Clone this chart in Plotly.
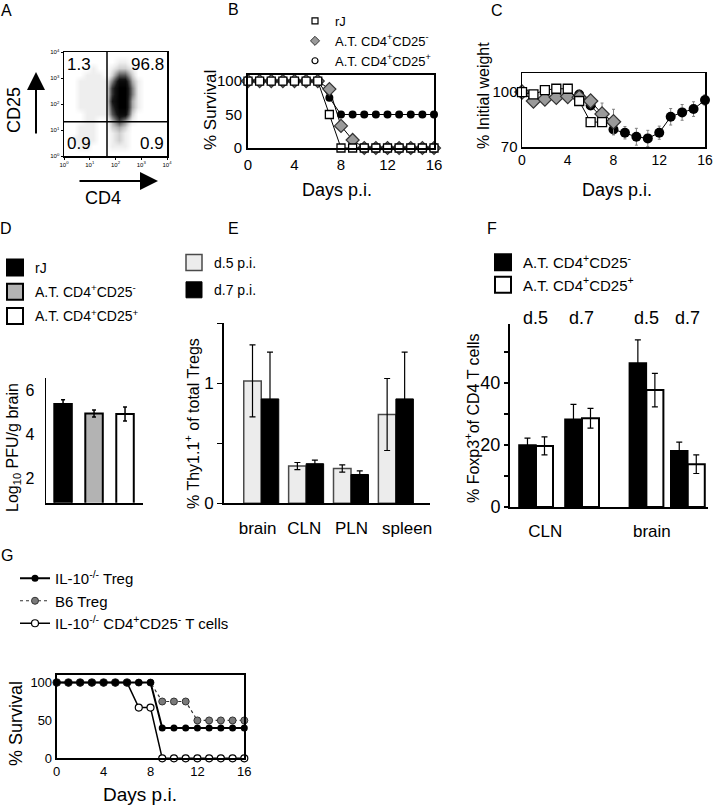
import plotly.graph_objects as go

W, H = 714, 808
FONT = "Liberation Sans, Arial, Helvetica, sans-serif"

# ---------------- data ----------------
# A: flow cytometry, log10 decades
a_decades = [0, 1, 2, 3, 4]
a_tick_text = ["10<sup>0</sup>", "10<sup>1</sup>", "10<sup>2</sup>", "10<sup>3</sup>", "10<sup>4</sup>"]
a_bin_centers = [0.125, 0.375, 0.625, 0.875, 1.125, 1.375, 1.625, 1.875,
                 2.125, 2.375, 2.625, 2.875, 3.125, 3.375, 3.625, 3.875]
# event density (0-9), rows from CD25 high (top) to low (bottom)
a_density_rows = [
    "0000000000000000",
    "0000000011000000",
    "0000100122100000",
    "0001110255200000",
    "0011111488310000",
    "0011111699410000",
    "0011111699410000",
    "0011111799310000",
    "0011111699310000",
    "0001111588200000",
    "0001100364100000",
    "0011100232000000",
    "0011100121000000",
    "0111100121000000",
    "0011000111000000",
    "0000000000000000",
]
a_gate_cd4 = 1.67
a_gate_cd25 = 1.32
a_quadrant_pct = ["1.3", "96.8", "0.9", "0.9"]  # UL, UR, LL, LR

# B: survival
b_days = [0, 1, 2, 3, 4, 5, 6, 7, 8, 9, 10, 11, 12, 13, 14, 15, 16]
b_rj = [100, 100, 100, 100, 100, 100, 100, 50, 0, 0, 0, 0, 0, 0, 0, 0, 0]
b_cd25neg = [100, 100, 100, 100, 100, 100, 100, 88, 33, 12, 0, 0, 0, 0, 0, 0, 0]
b_cd25pos = [100, 100, 100, 100, 100, 100, 100, 75, 50, 50, 50, 50, 50, 50, 50, 50, 50]

# C: % initial weight
c_days_rj = [0, 1, 2, 3, 4, 5, 6, 7]
c_rj = [100, 98.7, 101.1, 101.8, 101.8, 95.1, 83.6, 83.6]
c_days_neg = [0, 1, 2, 3, 4, 5, 6, 7, 8]
c_cd25neg = [100, 95.1, 96.2, 97.1, 97.6, 97.1, 95.1, 88.0, 83.8]
c_cd25neg_err = [0.5, 1.0, 1.0, 1.0, 1.0, 1.0, 1.5, 6.0, 6.8]
c_days_pos = [0, 1, 2, 3, 4, 5, 6, 7, 8, 9, 10, 11, 12, 13, 14, 15, 16]
c_cd25pos = [100, 95.5, 96.5, 97.0, 97.5, 98.7, 92.7, 86.2, 79.6, 77.8, 75.6, 74.7, 77.8, 86.5, 88.9, 90.7, 95.6]
c_cd25pos_err = [0.5, 0.8, 0.8, 0.8, 0.8, 1.0, 1.5, 2.5, 3.0, 3.4, 4.6, 4.4, 3.6, 4.5, 4.3, 4.0, 3.0]

# D: virus titre
d_groups = ["rJ", "CD25-", "CD25+"]
d_vals = [5.38, 4.95, 4.93]
d_err = [0.2, 0.16, 0.32]

# E: % Thy1.1+ of total Tregs
e_tissues = ["brain", "CLN", "PLN", "spleen"]
e_d5 = [1.02, 0.31, 0.29, 0.74]
e_d5_err = [0.30, 0.03, 0.03, 0.30]
e_d7 = [0.87, 0.33, 0.24, 0.87]
e_d7_err = [0.39, 0.03, 0.03, 0.39]

# F: % Foxp3+ of CD4 T cells
f_groups = ["CLN d.5", "CLN d.7", "brain d.5", "brain d.7"]
f_top_labels = ["d.5", "d.7", "d.5", "d.7"]
f_tissue_labels = ["CLN", "brain"]
f_cd25neg = [20.0, 28.3, 46.4, 18.1]
f_cd25neg_err = [2.2, 4.8, 7.5, 2.8]
f_cd25pos = [19.7, 28.6, 37.7, 13.8]
f_cd25pos_err = [2.9, 3.2, 5.4, 3.0]

# G: survival
g_days = [0, 1, 2, 3, 4, 5, 6, 7, 8, 9, 10, 11, 12, 13, 14, 15, 16]
g_il10_treg = [100, 100, 100, 100, 100, 100, 100, 100, 100, 40, 40, 40, 40, 40, 40, 40, 40]
g_b6_treg = [100, 100, 100, 100, 100, 100, 100, 100, 100, 75, 75, 75, 50, 50, 50, 50, 50]
g_il10_cd25neg = [100, 100, 100, 100, 100, 100, 100, 67, 67, 0, 0, 0, 0, 0, 0, 0, 0]

# ---------------- layout helpers (positions, not data) ----------------
E_SLOTS = [0, 1, 2, 3]
E_LABEL_SLOTS = [-0.08, 0.96, 2.01, 3.25]
F_SLOTS = [0, 1, 2.4, 3.3]
F_TISSUE_SLOTS = [0.2, 2.52]


def xd(a, b):
    return [a / W, b / W]


def yd(top, bottom):
    return [1 - bottom / H, 1 - top / H]


def px(x):
    return x / W


def py(y):
    return 1 - y / H


fig = go.Figure()

# ---- A
z = [[int(ch) for ch in row] for row in reversed(a_density_rows)]
fig.add_trace(go.Heatmap(
    x=a_bin_centers, y=a_bin_centers, z=z, zmin=0, zmax=9, zsmooth="best",
    colorscale=[[0, "#ffffff"], [1 / 9, "#eeeeee"], [2 / 9, "#d0d0d0"], [3 / 9, "#a8a8a8"],
                [5 / 9, "#555555"], [7 / 9, "#151515"], [1, "#000000"]],
    showscale=False, hoverinfo="skip", xaxis="x", yaxis="y"))

# ---- B
sc = dict(xaxis="x2", yaxis="y2", showlegend=False, cliponaxis=False, mode="lines+markers")
fig.add_trace(go.Scatter(x=b_days, y=b_cd25pos, line=dict(color="black", width=1),
                         marker=dict(symbol="circle", size=8, color="black"), **sc))
fig.add_trace(go.Scatter(x=b_days, y=b_cd25neg, line=dict(color="black", width=1),
                         marker=dict(symbol="diamond", size=10, color="#9a9a9a",
                                     line=dict(color="#333333", width=1.2)), **sc))
fig.add_trace(go.Scatter(x=b_days, y=b_rj, line=dict(color="black", width=1),
                         marker=dict(symbol="square", size=8, color="white",
                                     line=dict(color="black", width=1.3)), **sc))
leg = dict(x=[None], y=[None], mode="markers", xaxis="x2", yaxis="y2", legend="legend")
fig.add_trace(go.Scatter(name="rJ", marker=dict(symbol="square", size=6, color="white",
                                                line=dict(color="black", width=1.2)), **leg))
fig.add_trace(go.Scatter(name="A.T. CD4<sup>+</sup>CD25<sup>-</sup>",
                         marker=dict(symbol="diamond", size=7, color="#9a9a9a",
                                     line=dict(color="#333333", width=1)), **leg))
fig.add_trace(go.Scatter(name="A.T. CD4<sup>+</sup>CD25<sup>+</sup>",
                         marker=dict(symbol="circle", size=6, color="white",
                                     line=dict(color="black", width=1.2)), **leg))

# ---- C
sc3 = dict(xaxis="x3", yaxis="y3", showlegend=False, cliponaxis=False, mode="lines+markers")
errc = dict(type="data", color="#808080", thickness=1, width=1.5)
fig.add_trace(go.Scatter(x=c_days_pos, y=c_cd25pos, error_y=dict(array=c_cd25pos_err, **errc),
                         line=dict(color="black", width=1),
                         marker=dict(symbol="circle", size=10, color="black"), **sc3))
fig.add_trace(go.Scatter(x=c_days_neg, y=c_cd25neg, error_y=dict(array=c_cd25neg_err, **errc),
                         line=dict(color="black", width=1),
                         marker=dict(symbol="diamond", size=11, color="#9a9a9a",
                                     line=dict(color="#333333", width=1.2)), **sc3))
fig.add_trace(go.Scatter(x=c_days_rj, y=c_rj, line=dict(color="black", width=1),
                         marker=dict(symbol="square", size=9, color="white",
                                     line=dict(color="black", width=1.3)), **sc3))

# ---- D
errb = dict(type="data", color="black", thickness=1.5, width=2)
fig.add_trace(go.Bar(x=d_groups, y=d_vals, error_y=dict(array=d_err, **errb), width=0.565,
                     marker=dict(color=["black", "#b3b3b3", "white"], line=dict(color="black", width=2)),
                     xaxis="x4", yaxis="y4", showlegend=False))
legd = dict(x=[None], y=[None], mode="markers", xaxis="x4", yaxis="y4", legend="legend2")
fig.add_trace(go.Scatter(name="rJ", legendgroup="d1",
                         marker=dict(symbol="square", size=16, color="black", line=dict(color="black", width=2)), **legd))
fig.add_trace(go.Scatter(name="A.T. CD4<sup>+</sup>CD25<sup>-</sup>", legendgroup="d2",
                         marker=dict(symbol="square", size=16, color="#b3b3b3", line=dict(color="black", width=2)), **legd))
fig.add_trace(go.Scatter(name="A.T. CD4<sup>+</sup>CD25<sup>+</sup>", legendgroup="d3",
                         marker=dict(symbol="square", size=16, color="white", line=dict(color="black", width=2)), **legd))

# ---- E
errE = dict(type="data", color="black", thickness=1.2, width=3)
fig.add_trace(go.Bar(x=E_SLOTS, y=e_d5, error_y=dict(array=e_d5_err, **errE), offset=-0.39, width=0.39,
                     marker=dict(color="#ececec", line=dict(color="#4a4a4a", width=1.5)),
                     hovertext=e_tissues, xaxis="x5", yaxis="y5", showlegend=False))
fig.add_trace(go.Bar(x=E_SLOTS, y=e_d7, error_y=dict(array=e_d7_err, **errE), offset=0, width=0.39,
                     marker=dict(color="black", line=dict(color="black", width=1)),
                     hovertext=e_tissues, xaxis="x5", yaxis="y5", showlegend=False))
lege = dict(x=[None], y=[None], mode="markers", xaxis="x5", yaxis="y5", legend="legend3")
fig.add_trace(go.Scatter(name="d.5 p.i.", legendgroup="e1",
                         marker=dict(symbol="square", size=16, color="#ececec", line=dict(color="#4a4a4a", width=1.5)), **lege))
fig.add_trace(go.Scatter(name="d.7 p.i.", legendgroup="e2",
                         marker=dict(symbol="square", size=16, color="black", line=dict(color="black", width=1)), **lege))

# ---- F
fig.add_trace(go.Bar(x=F_SLOTS, y=f_cd25neg, error_y=dict(array=f_cd25neg_err, **errE), offset=-0.37, width=0.37,
                     marker=dict(color="black", line=dict(color="black", width=1.5)),
                     hovertext=f_groups, xaxis="x6", yaxis="y6", showlegend=False))
fig.add_trace(go.Bar(x=F_SLOTS, y=f_cd25pos, error_y=dict(array=f_cd25pos_err, **errE), offset=0, width=0.37,
                     marker=dict(color="white", line=dict(color="black", width=2)),
                     hovertext=f_groups, xaxis="x6", yaxis="y6", showlegend=False))
legf = dict(x=[None], y=[None], mode="markers", xaxis="x6", yaxis="y6", legend="legend4")
fig.add_trace(go.Scatter(name="A.T. CD4<sup>+</sup>CD25<sup>-</sup>", legendgroup="f1",
                         marker=dict(symbol="square", size=16, color="black", line=dict(color="black", width=2)), **legf))
fig.add_trace(go.Scatter(name="A.T. CD4<sup>+</sup>CD25<sup>+</sup>", legendgroup="f2",
                         marker=dict(symbol="square", size=16, color="white", line=dict(color="black", width=2)), **legf))

# ---- G
sg = dict(xaxis="x7", yaxis="y7", cliponaxis=False, mode="lines+markers", legend="legend5")
fig.add_trace(go.Scatter(x=g_days, y=g_il10_cd25neg, name="IL-10<sup>-/-</sup> CD4<sup>+</sup>CD25<sup>-</sup> T cells",
                         legendrank=3, line=dict(color="black", width=1.5),
                         marker=dict(symbol="circle", size=7, color="white", line=dict(color="black", width=1.2)), **sg))
fig.add_trace(go.Scatter(x=g_days, y=g_b6_treg, name="B6 Treg", legendrank=2,
                         line=dict(color="#333333", width=1.2, dash="dot"),
                         marker=dict(symbol="circle", size=7, color="#7a7a7a", line=dict(color="#333333", width=1)), **sg))
fig.add_trace(go.Scatter(x=g_days, y=g_il10_treg, name="IL-10<sup>-/-</sup> Treg", legendrank=1,
                         line=dict(color="black", width=2),
                         marker=dict(symbol="circle", size=7, color="black"), **sg))

# ---------------- axes ----------------
def axis(domain, rng, anchor, **kw):
    d = dict(domain=domain, range=rng, anchor=anchor, showgrid=False, zeroline=False,
             showline=True, linecolor="black", linewidth=1.5, ticks="", color="black",
             tickfont=dict(size=15, color="black", family=FONT), fixedrange=True,
             ticklabeloverflow="allow")
    d.update(kw)
    return d


clear_tick = "rgba(0,0,0,0)"
layout = dict(
    xaxis=axis(xd(64, 167), [0, 4], "y", mirror=True, tickvals=a_decades, ticktext=a_tick_text,
               ticks="outside", ticklen=2, tickfont=dict(size=6)),
    yaxis=axis(yd(52, 156), [0, 4], "x", mirror=True, tickvals=a_decades, ticktext=a_tick_text,
               ticks="outside", ticklen=2, tickfont=dict(size=6)),
    xaxis2=axis(xd(248, 434), [0, 16], "y2", mirror=True, linewidth=2, tickvals=[0, 4, 8, 12, 16],
                ticks="outside", ticklen=2, tickcolor=clear_tick),
    yaxis2=axis(yd(75, 148), [0, 109], "x2", mirror=True, linewidth=2, tickvals=[0, 50, 100],
                ticks="outside", ticklen=1, tickcolor=clear_tick),
    xaxis3=axis(xd(522, 705), [0, 16], "y3", mirror=True, tickvals=[0, 4, 8, 12, 16],
                tickfont=dict(size=14)),
    yaxis3=axis(yd(73, 147), [70, 110.4], "x3", mirror=True, tickvals=[70, 100]),
    xaxis4=axis(xd(45.7, 143), [-0.56, 2.58], "y4", showticklabels=False, linewidth=2.5),
    yaxis4=axis(yd(378, 502.7), [0.87, 6.57], "x4", linewidth=1, tickvals=[2, 4, 6],
                ticks="outside", ticklen=7, tickcolor=clear_tick, tickfont=dict(size=16)),
    xaxis5=axis(xd(224, 430), [-0.83, 3.76], "y5", linewidth=2, tickvals=E_LABEL_SLOTS,
                ticktext=e_tissues, ticks="outside", ticklen=8, tickcolor=clear_tick,
                tickfont=dict(size=17)),
    yaxis5=axis(yd(323.3, 503.3), [0, 1.5], "x5", linewidth=2, tickvals=[0, 1],
                ticks="outside", ticklen=5, tickwidth=1.5, tickfont=dict(size=17),
                minor=dict(tickvals=[0.5, 1.5], ticks="outside", ticklen=5, tickwidth=1.5,
                           tickcolor="black")),
    xaxis6=axis(xd(510, 708), [-0.565, 3.74], "y6", linewidth=2, tickvals=F_TISSUE_SLOTS,
                ticktext=f_tissue_labels, ticks="outside", ticklen=8, tickcolor=clear_tick,
                tickfont=dict(size=17)),
    yaxis6=axis(yd(324, 507), [0, 59], "x6", linewidth=2, tickvals=[0, 20, 40],
                ticks="outside", ticklen=4, tickwidth=1.5, tickfont=dict(size=18),
                minor=dict(tickvals=[10, 30, 50], ticks="outside", ticklen=4, tickwidth=1.5,
                           tickcolor="black")),
    xaxis7=axis(xd(56.7, 244.3), [0, 16], "y7", mirror=True, linewidth=2, tickvals=[0, 4, 8, 12, 16],
                tickfont=dict(size=13)),
    yaxis7=axis(yd(675, 758.3), [0, 110], "x7", mirror=True, linewidth=2, tickvals=[0, 50, 100],
                tickfont=dict(size=13)),
)

# ---------------- legends ----------------
def legend(left, top, size, gap=0):
    return dict(x=px(left), y=py(top), xanchor="left", yanchor="top", bgcolor="rgba(0,0,0,0)",
                borderwidth=0, font=dict(size=size, color="black", family=FONT),
                tracegroupgap=gap, itemclick=False, itemdoubleclick=False)


layout["legend"] = legend(295, 6, 13)
layout["legend2"] = legend(-5, 252, 14, gap=3)
layout["legend3"] = legend(174, 247, 14, gap=6)
layout["legend4"] = legend(483, 246, 15)
layout["legend5"] = legend(15, 562, 15)

# ---------------- annotations ----------------
ann = []


def text(x, y, s, size, angle=0, xanchor="center", yanchor="middle"):
    ann.append(dict(x=px(x), y=py(y), xref="paper", yref="paper", text=s, showarrow=False,
                    font=dict(size=size, color="black", family=FONT), textangle=angle,
                    xanchor=xanchor, yanchor=yanchor))


for letter, (lx, ly) in zip("ABCDEFG", [(6, 10), (233, 9), (497, 10), (6, 228), (233, 228), (492, 228), (7, 555)]):
    text(lx, ly, letter, 16)

# A quadrant percentages
for s, (qx, qy, xa, ya) in zip(a_quadrant_pct, [(0.01, 0.99, "left", "top"), (0.99, 0.99, "right", "top"),
                                                 (0.01, 0.01, "left", "bottom"), (0.99, 0.01, "right", "bottom")]):
    ann.append(dict(x=qx, y=qy, xref="x domain", yref="y domain", text=s, showarrow=False,
                    xanchor=xa, yanchor=ya, font=dict(size=17, color="black", family=FONT)))
text(14, 110, "CD25", 18, angle=-90)
text(103, 198, "CD4", 18)
ann.append(dict(x=px(36), y=py(72), xref="paper", yref="paper", text="", showarrow=True,
                ax=0, ay=63, arrowhead=2, arrowsize=1.8, arrowwidth=2, arrowcolor="black"))
ann.append(dict(x=px(158), y=py(181), xref="paper", yref="paper", text="", showarrow=True,
                ax=-80, ay=0, arrowhead=2, arrowsize=1.8, arrowwidth=2, arrowcolor="black"))

# B
text(210, 110, "% Survival", 17, angle=-90)
text(337, 190, "Days p.i.", 18)
# C
text(483, 96, "% Initial weight", 16, angle=-90)
text(617, 190, "Days p.i.", 18)
# D
text(13, 448, "Log<sub>10</sub> PFU/g brain", 16, angle=-90)
# E
text(192, 424, "% Thy1.1<sup>+</sup> of total Tregs", 16, angle=-90)
# F
text(472, 418, "% Foxp3<sup>+</sup>of CD4 T cells", 16, angle=-90)
for lab, slot in zip(f_top_labels, F_SLOTS):
    ann.append(dict(x=slot, y=py(318), xref="x6", yref="paper", text=lab, showarrow=False,
                    font=dict(size=18, color="black", family=FONT)))
# G
text(16, 724, "% Survival", 18, angle=-90)
text(140, 794, "Days p.i.", 19)

shapes = [
    dict(type="line", xref="x", yref="y", x0=a_gate_cd4, x1=a_gate_cd4, y0=0, y1=4,
         line=dict(color="black", width=1.5)),
    dict(type="line", xref="x", yref="y", x0=0, x1=4, y0=a_gate_cd25, y1=a_gate_cd25,
         line=dict(color="black", width=1.5)),
]

fig.update_layout(
    width=W, height=H, margin=dict(l=0, r=0, t=0, b=0, autoexpand=False),
    paper_bgcolor="white", plot_bgcolor="white",
    font=dict(family=FONT, color="black"), barmode="overlay", showlegend=True,
    annotations=ann, shapes=shapes, hovermode=False, **layout)

# the page's default body margin would push the 714x808 figure out of the window
fig.write_html("out.html", config={"displayModeBar": False, "staticPlot": True},
               post_script="document.body.style.margin='0px';document.body.style.padding='0px';"
                           "document.body.style.overflow='hidden';")
